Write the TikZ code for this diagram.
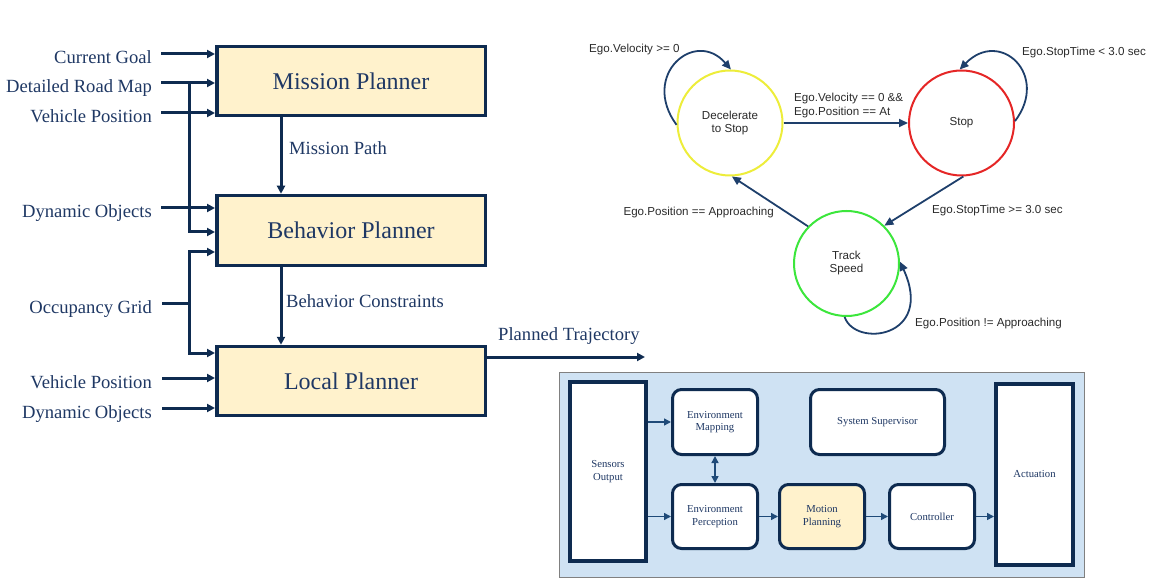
\documentclass[tikz,border=0pt]{standalone}
\usepackage{fontspec}
\setmainfont{Liberation Serif}
\newfontfamily\smfont{Liberation Sans}
\usetikzlibrary{arrows.meta,calc}
\definecolor{navy}{HTML}{0E2B50}
\definecolor{txtnavy}{HTML}{1F3864}
\definecolor{boxfill}{HTML}{FFF2CC}
\definecolor{bgblue}{HTML}{CFE2F3}
\definecolor{smarrow}{HTML}{1E3F6B}
\definecolor{styellow}{HTML}{EDED3A}
\definecolor{stred}{HTML}{E52626}
\definecolor{stgreen}{HTML}{3CE63C}
\definecolor{bluearrow}{HTML}{1F4A78}
\definecolor{smtext}{HTML}{2A2A2A}
\begin{document}
\begin{tikzpicture}[x=1pt,y=-1pt,
  planbox/.style={draw=navy, line width=3.5pt, fill=boxfill, minimum width=268.5pt,
    minimum height=69pt, font=\fontsize{24}{28}\selectfont, text=txtnavy, inner sep=0},
  inlbl/.style={anchor=base east, inner sep=0, font=\fontsize{18.6}{22}\selectfont, text=txtnavy},
  flowlbl/.style={anchor=base west, inner sep=0, font=\fontsize{18.6}{22}\selectfont, text=txtnavy},
  flow/.style={draw=navy, line width=3pt, -{Triangle[length=8pt,width=8pt]}},
  trunk/.style={draw=navy, line width=3pt},
  state/.style={circle, line width=2pt, minimum size=105pt, inner sep=0, fill=white,
    font=\smfont\fontsize{11.6}{13}\selectfont, text=smtext, align=center},
  smlbl/.style={inner sep=0, font=\smfont\fontsize{11.6}{13.5}\selectfont, text=smtext, align=left},
  smflow/.style={draw=smarrow, line width=1.8pt, -{Triangle[length=9pt,width=8pt]}},
  blk/.style={draw=navy, line width=3pt, fill=white, rounded corners=9pt, inner sep=0,
    font=\fontsize{10.7}{12.5}\selectfont, text=txtnavy, align=center},
  tallblk/.style={draw=navy, line width=4pt, fill=white, inner sep=0,
    font=\fontsize{10.7}{12.5}\selectfont, text=txtnavy, align=center},
  bflow/.style={draw=bluearrow, line width=1.5pt, -{Triangle[length=7pt,width=7pt]}}
]
\useasboundingbox (0,0) rectangle (1161,585);

% ---------------- Left: planner hierarchy ----------------
\node[planbox] (mission)  at (351,81)   {Mission Planner};
\node[planbox, minimum height=70pt] (behavior) at (351,230.5) {Behavior Planner};
\node[planbox] (local)    at (351,381)  {Local Planner};

\node[inlbl] (lCG) at (152,64)  {Current Goal};
\node[inlbl] (lRM) at (152,93)  {Detailed Road Map};
\node[inlbl] (lVP) at (152,123) {Vehicle Position};
\node[inlbl] (lDO) at (152,218) {Dynamic Objects};
\node[inlbl] (lOG) at (152,313) {Occupancy Grid};
\node[inlbl] (lVP2) at (152,388) {Vehicle Position};
\node[inlbl] (lDO2) at (152,418) {Dynamic Objects};

\coordinate (iCG) at (161,54);
\coordinate (iRM) at (161,83);
\coordinate (iVP) at (161,113);
\coordinate (iDO) at (161,208);
\coordinate (iOG) at (162,303);
\coordinate (iVP2) at (162,378);
\coordinate (iDO2) at (162,408);
\coordinate (tRM) at (189.5,83);
\coordinate (tRMb) at (189.5,232);
\coordinate (tOGa) at (189.5,252);
\coordinate (tOGb) at (189.5,353);
\coordinate (colA) at (281,0);
\coordinate (outPT) at (645,357);

\draw[flow] (iCG) -- (iCG -| mission.west);
\draw[flow] (iRM) -- (iRM -| mission.west);
\draw[flow] (iVP) -- (iVP -| mission.west);
\draw[trunk] (tRM) -- (tRMb);
\draw[flow] ([yshift=-1.5pt]tRMb) |- (tRMb -| behavior.west);
\draw[flow] (iDO) -- (iDO -| behavior.west);
\draw[trunk] (iOG) -- (iOG -| tOGa);
\draw[flow] (tOGb) |- (tOGa -| behavior.west);
\draw[flow] (tOGa) |- (tOGb -| local.west);
\draw[flow] (iVP2) -- (iVP2 -| local.west);
\draw[flow] (iDO2) -- (iDO2 -| local.west);

\draw[flow] (mission.south -| colA) -- (behavior.north -| colA);
\draw[flow] (behavior.south -| colA) -- (local.north -| colA);
\draw[flow] (outPT -| local.east) -- (outPT);

\node[flowlbl] (lMP) at (289,155) {Mission Path};
\node[flowlbl] (lBC) at (286,307) {Behavior Constraints};
\node[flowlbl] (lPT) at (498,340) {Planned Trajectory};

% ---------------- State machine ----------------
\node[state, draw=styellow] (dec) at (730,123) {Decelerate\\to Stop};
\node[state, draw=stred] (stop) at (961.5,123) {Stop};
\node[state, draw=stgreen] (track) at (846.5,263.5) {Track\\Speed};

\draw[smflow] (dec.east) -- (stop.west);
\draw[smflow] (stop.272) -- (track.45);
\draw[smflow] (track.136) -- (dec.272);
\draw[smflow] (dec.182) .. controls (640,75) and (695,28) .. (dec.89);
\draw[smflow] (stop.2) .. controls (1050,75) and (1000,28) .. (stop.92);
\draw[smflow] (track.268) .. controls (855,348) and (935,338) .. (track.2);

\node[smlbl, anchor=base west] (s1) at (589,53) {Ego.Velocity >= 0};
\node[smlbl, anchor=base west] (s2) at (1022,56) {Ego.StopTime < 3.0 sec};
\node[smlbl, anchor=base west] (s3) at (794,101.5) {Ego.Velocity == 0 \&\&};
\node[smlbl, anchor=base west] (s3b) at (794,115.5) {Ego.Position == At};
\node[smlbl, anchor=base west] (s4) at (932,213.5) {Ego.StopTime >= 3.0 sec};
\node[smlbl, anchor=base east] (s5) at (774,215.5) {Ego.Position == Approaching};
\node[smlbl, anchor=base west] (s6) at (915,326.5) {Ego.Position != Approaching};

% ---------------- Block diagram ----------------
\node[draw=black!50, line width=1pt, fill=bgblue, minimum width=525pt, minimum height=205pt,
  inner sep=0] (frame) at (821.5,474.5) {};
\node[tallblk, minimum width=76pt, minimum height=179pt] (sens) at (608,471.5) {Sensors\\Output};
\node[tallblk, minimum width=77pt, minimum height=181pt] (act) at (1034.5,474.5) {Actuation};
\node[blk, minimum width=85pt, minimum height=65pt] (emap) at (715,422) {Environment\\Mapping};
\node[blk, minimum width=134pt, minimum height=65pt] (sup) at (877.5,422) {System Supervisor};
\node[blk, minimum width=85pt, minimum height=64pt] (eper) at (715,516.5) {Environment\\Perception};
\node[blk, minimum width=85pt, minimum height=64pt, fill=boxfill] (mot) at (822,516.5) {Motion\\Planning};
\node[blk, minimum width=85pt, minimum height=64pt] (ctrl) at (932,516.5) {Controller};

\draw[bflow] (sens.east |- emap) -- (emap.west);
\draw[bflow] (sens.east |- eper) -- (eper.west);
\draw[bflow, {Triangle[length=7pt,width=7pt]}-{Triangle[length=7pt,width=7pt]}] (emap.south) -- (eper.north);
\draw[bflow] (eper.east) -- (mot.west);
\draw[bflow] (mot.east) -- (ctrl.west);
\draw[bflow] (ctrl.east) -- (ctrl.east -| act.west);
\end{tikzpicture}
\end{document}
